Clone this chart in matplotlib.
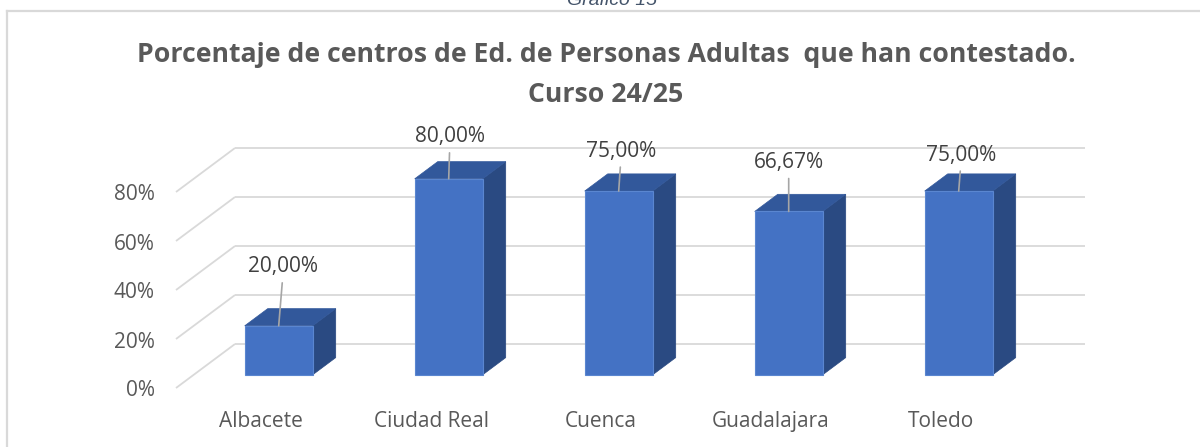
import matplotlib
matplotlib.use("Agg")
import matplotlib.pyplot as plt
from matplotlib.patches import Polygon
from matplotlib.lines import Line2D

# ---- data ----
categories = ["Albacete", "Ciudad Real", "Cuenca", "Guadalajara", "Toledo"]
values = [20.00, 80.00, 75.00, 66.67, 75.00]
value_labels = ["20,00%", "80,00%", "75,00%", "66,67%", "75,00%"]
ticks = [0, 20, 40, 60, 80]
tick_labels = ["0%", "20%", "40%", "60%", "80%"]
title = "Porcentaje de centros de Ed. de Personas Adultas  que han contestado.\nCurso 24/25"
caption = "Gráfico 15"

# label offsets (pixels) relative to bar top-centre, as placed in the original
label_offsets = [(4, 59), (1, 42), (2, 40), (0, 49), (2, 36)]

# ---- layout (pixel geometry of the oblique 3D view) ----
W, H = 1200, 447
PX_CAT = 170.0      # pixels per category
X0 = 261.0          # pixel x of category 0 on front plane
PX_PCT = 2.45       # pixels per percent
Y0 = 388.0          # pixel y (from top) of 0% on front plane
DX = 59.0 / PX_CAT  # depth vector in data units
DY = 44.0 / PX_PCT
X_LEFT = -0.5
X_BACK_RIGHT = 4.5 + DX
BAR_W = 0.40
D0 = 0.30           # depth position of bar front
DD = 0.39           # bar depth

FRONT = "#4472C4"
TOP = "#32589B"
SIDE = "#2A4A82"
GRID = "#D9D9D9"
TXT = "#595959"
FS = 15

fig = plt.figure(figsize=(W / 100, H / 100), dpi=100)
ax = fig.add_axes([0, 0, 1, 1])
ax.set_xlim(-X0 / PX_CAT, (W - X0) / PX_CAT)
ax.set_ylim((Y0 - H) / PX_PCT, Y0 / PX_PCT)
ax.axis("off")

# walls / gridlines
for t, tl in zip(ticks, tick_labels):
    ax.plot([X_LEFT, X_LEFT + DX], [t, t + DY], color=GRID, lw=1.3,
            solid_capstyle="butt", zorder=1)
    ax.plot([X_LEFT + DX, X_BACK_RIGHT], [t + DY, t + DY], color=GRID, lw=1.3,
            solid_capstyle="butt", zorder=1)
    ax.annotate(tl, xy=(X_LEFT, t), xytext=(-21, -3), textcoords="offset pixels",
                ha="right", va="center", fontsize=FS, color=TXT,
                family=["Open Sans", "DejaVu Sans"])

# bars
for i, (v, lab, off) in enumerate(zip(values, value_labels, label_offsets)):
    xl = i - BAR_W / 2 + D0 * DX
    xr = i + BAR_W / 2 + D0 * DX
    yb = D0 * DY
    yt = v + D0 * DY
    ddx, ddy = DD * DX, DD * DY
    side = Polygon([(xr, yb), (xr + ddx, yb + ddy), (xr + ddx, yt + ddy), (xr, yt)],
                   closed=True, facecolor=SIDE, edgecolor=SIDE, lw=0.5, zorder=3)
    top = Polygon([(xl, yt), (xr, yt), (xr + ddx, yt + ddy), (xl + ddx, yt + ddy)],
                  closed=True, facecolor=TOP, edgecolor=TOP, lw=0.5, zorder=3)
    front = Polygon([(xl, yb), (xr, yb), (xr, yt), (xl, yt)], closed=True,
                    facecolor=FRONT, edgecolor="#5A86D0", lw=0.8, zorder=4)
    for p in (side, top, front):
        ax.add_patch(p)
    xc = (xl + xr) / 2
    ax.annotate(lab, xy=(xc, yt), xytext=off, textcoords="offset pixels",
                ha="center", va="center", fontsize=FS, color="#404040",
                family=["Open Sans", "DejaVu Sans"], zorder=6,
                arrowprops=dict(arrowstyle="-", color="#A6A6A6", lw=1.2,
                                shrinkA=2, shrinkB=0, relpos=(0.5, 0.0)))
    ax.annotate(categories[i], xy=(i, 0), xytext=(0, -39), textcoords="offset pixels",
                ha="center", va="baseline", fontsize=FS, color=TXT,
                family=["Open Sans", "DejaVu Sans"])

# title
fig.text(606 / W, 1 - 75 / H, title, ha="center", va="center", fontsize=19.2,
         fontweight="bold", color=TXT, linespacing=1.72,
         family=["Open Sans", "DejaVu Sans"])

# caption (cut off at the top of the page, as in the original)
fig.text(612 / W, 1 - 5 / H, caption, ha="center", va="baseline", fontsize=14,
         style="italic", color="#44546A", family=["Liberation Sans", "DejaVu Sans"])

# chart frame (top and left border visible)
fig.add_artist(Line2D([7 / W, 1.0], [1 - 10.5 / H, 1 - 10.5 / H], color=GRID, lw=1.6,
                      transform=fig.transFigure))
fig.add_artist(Line2D([7 / W, 7 / W], [0, 1 - 10.5 / H], color=GRID, lw=1.6,
                      transform=fig.transFigure))

fig.savefig("out.png", dpi=100)
